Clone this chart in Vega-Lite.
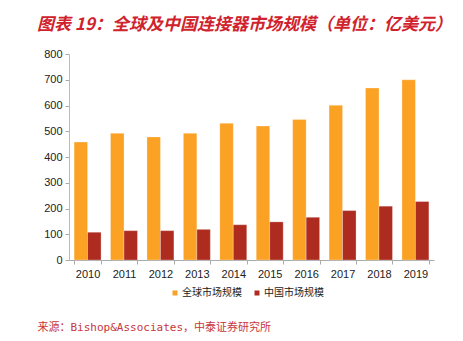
{
  "$schema": "https://vega.github.io/schema/vega-lite/v6.json",
  "autosize": "none",
  "width": 365,
  "height": 206,
  "padding": {"left": 69, "top": 54, "right": 29, "bottom": 81},
  "background": "white",
  "config": {"view": {"stroke": null}},
  "title": {
    "text": "图表 19：全球及中国连接器市场规模（单位：亿美元）",
    "anchor": "start",
    "frame": "group",
    "dx": -32,
    "offset": 14,
    "font": "Noto Sans CJK SC",
    "fontSize": 17,
    "fontWeight": "bold",
    "fontStyle": "italic",
    "color": "#D0222C"
  },
  "data": {
    "values": [
      {"year": "2010", "series": "全球市场规模", "value": 458},
      {"year": "2011", "series": "全球市场规模", "value": 492},
      {"year": "2012", "series": "全球市场规模", "value": 478},
      {"year": "2013", "series": "全球市场规模", "value": 492},
      {"year": "2014", "series": "全球市场规模", "value": 531},
      {"year": "2015", "series": "全球市场规模", "value": 520},
      {"year": "2016", "series": "全球市场规模", "value": 546},
      {"year": "2017", "series": "全球市场规模", "value": 601},
      {"year": "2018", "series": "全球市场规模", "value": 668},
      {"year": "2019", "series": "全球市场规模", "value": 700},
      {"year": "2010", "series": "中国市场规模", "value": 108},
      {"year": "2011", "series": "中国市场规模", "value": 114},
      {"year": "2012", "series": "中国市场规模", "value": 114},
      {"year": "2013", "series": "中国市场规模", "value": 119},
      {"year": "2014", "series": "中国市场规模", "value": 137},
      {"year": "2015", "series": "中国市场规模", "value": 148},
      {"year": "2016", "series": "中国市场规模", "value": 166},
      {"year": "2017", "series": "中国市场规模", "value": 192},
      {"year": "2018", "series": "中国市场规模", "value": 209},
      {"year": "2019", "series": "中国市场规模", "value": 227}
    ]
  },
  "mark": {"type": "bar", "stroke": "#FFFFFF", "strokeOpacity": 0.4, "strokeWidth": 0.7},
  "encoding": {
    "x": {
      "field": "year",
      "type": "nominal",
      "scale": {"paddingInner": 0.26, "paddingOuter": 0.14},
      "axis": {
        "title": "来源：Bishop&Associates，中泰证券研究所",
        "titleFont": "DejaVu Sans Mono, Noto Sans CJK SC",
        "titleFontSize": 11,
        "titleFontWeight": "normal",
        "titleColor": "#C8363A",
        "titleAnchor": "start",
        "titleAlign": "left",
        "titleBaseline": "middle",
        "titleX": -32,
        "titleY": 67,
        "labelAngle": 0,
        "labelFont": "Liberation Sans",
        "labelFontSize": 11,
        "labelColor": "#222222",
        "labelPadding": 4,
        "domainColor": "#AAAAAA",
        "tickColor": "#AAAAAA",
        "tickBand": "extent",
        "tickSize": 4
      }
    },
    "xOffset": {"field": "series", "type": "nominal", "sort": ["全球市场规模", "中国市场规模"]},
    "y": {
      "field": "value",
      "type": "quantitative",
      "scale": {"domain": [0, 800]},
      "axis": {
        "title": null,
        "values": [0, 100, 200, 300, 400, 500, 600, 700, 800],
        "grid": false,
        "labelFont": "Liberation Sans",
        "labelFontSize": 11,
        "labelColor": "#222222",
        "labelPadding": 3,
        "domainColor": "#BBBBBB",
        "tickColor": "#AAAAAA",
        "tickSize": 4
      }
    },
    "color": {
      "field": "series",
      "type": "nominal",
      "sort": ["全球市场规模", "中国市场规模"],
      "scale": {"domain": ["全球市场规模", "中国市场规模"], "range": ["#FBA124", "#AE2B20"]},
      "legend": {
        "title": null,
        "orient": "none",
        "direction": "horizontal",
        "legendX": 101,
        "legendY": 234,
        "symbolType": "square",
        "symbolSize": 25,
        "symbolStrokeWidth": 0,
        "labelFont": "Noto Sans CJK SC",
        "labelFontSize": 10,
        "labelColor": "#222222",
        "labelOffset": 2,
        "columnPadding": 10
      }
    }
  }
}
